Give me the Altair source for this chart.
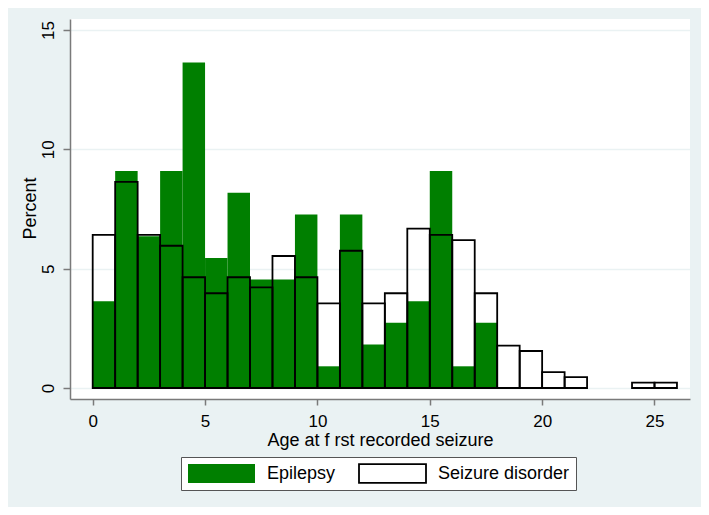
import altair as alt
import pandas as pd

# Histogram bins (width 1, starting at age 0)
groups = ["Epilepsy", "Seizure disorder"]
epilepsy_pct = [3.64, 9.09, 6.36, 9.09, 13.64, 5.45, 8.18, 4.55, 4.55, 7.27,
                0.91, 7.27, 1.82, 2.73, 3.64, 9.09, 0.91, 2.73]
seizure_pct = [6.42, 8.64, 6.42, 5.96, 4.64, 3.97, 4.64, 4.22, 5.53, 4.64,
               3.55, 5.75, 3.55, 3.97, 6.68, 6.42, 6.20, 3.97, 1.78, 1.55,
               0.67, 0.46, 0.0, 0.0, 0.23, 0.23]
x_ticks = [0, 5, 10, 15, 20, 25]
y_ticks = [0, 5, 10, 15]

rows = []
for name, vals in zip(groups, [epilepsy_pct, seizure_pct]):
    for i, v in enumerate(vals):
        if v > 0:
            rows.append({"start": i, "end": i + 1, "pct": v, "group": name})
df = pd.DataFrame(rows)

FONT = "Liberation Sans"

legend_def = alt.Legend(
    title=None, orient="none", legendX=111, legendY=438,
    direction="horizontal", columns=2, clipHeight=21,
)

fill_scale = alt.Scale(domain=groups, range=["#007F00", "transparent"])
stroke_scale = alt.Scale(domain=groups, range=["transparent", "black"])

chart = alt.Chart(df).mark_rect(strokeWidth=1.8).encode(
    x=alt.X(
        "start:Q",
        scale=alt.Scale(domain=[-1.01, 26.58], nice=False, zero=False),
        axis=alt.Axis(
            values=x_ticks, grid=False, tickSize=6, labelPadding=21,
            labelBaseline="alphabetic", labelFontSize=17,
            titleY=46, titleBaseline="alphabetic", titleFontSize=18,
        ),
        title="Age at f rst recorded seizure",
    ),
    x2="end:Q",
    y=alt.Y(
        "pct:Q",
        scale=alt.Scale(domain=[-0.46, 15.46], nice=False, zero=False),
        axis=alt.Axis(
            values=y_ticks, grid=True, tickSize=7, labelPadding=10,
            labelAngle=270, labelAlign="center", labelBaseline="alphabetic",
            labelFontSize=17,
            titleAngle=270, titleX=-35, titleY=189, titleAlign="center",
            titleBaseline="alphabetic", titleFontSize=18,
        ),
        title="Percent",
    ),
    y2=alt.datum(0),
    fill=alt.Fill("group:N", scale=fill_scale, legend=legend_def),
    stroke=alt.Stroke("group:N", scale=stroke_scale, legend=legend_def),
).properties(
    width=620, height=380,
    autosize=alt.AutoSizeParams(type="none"),
    padding={"left": 62, "top": 11, "right": 11, "bottom": 108},
    background="#EAF2F3",
).configure_view(
    fill="white", stroke=None,
).configure_axis(
    labelFont=FONT, titleFont=FONT, labelColor="black", titleColor="black",
    titleFontWeight="normal", domainColor="#7a7a7a", domainWidth=1.5,
    tickColor="#7a7a7a", tickWidth=1.5, gridColor="#EAF2F3", gridWidth=1.5,
).configure_legend(
    padding=6, strokeColor="#555555", fillColor="white",
    symbolType="M-1,-0.28H1V0.28H-1Z", symbolSize=4489,
    symbolStrokeWidth=1.8, labelFont=FONT, labelFontSize=18,
    labelColor="black", labelOffset=11, columnPadding=22,
)

chart.save("out.html", embed_options={"renderer": "svg", "actions": False})
